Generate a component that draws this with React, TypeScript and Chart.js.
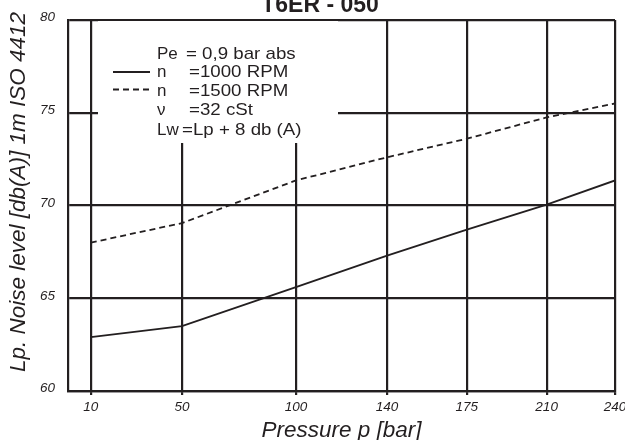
import React, { useEffect, useRef } from 'react';
import { Chart, registerables } from 'chart.js';

Chart.register(...registerables);

// ---- data ----
const pressureTicks = [10, 50, 100, 140, 175, 210, 240];
const noiseTicks = [60, 65, 70, 75, 80];
const noise1000 = [62.9, 63.5, 65.6, 67.3, 68.7, 70.05, 71.35];
const noise1500 = [68.0, 69.05, 71.35, 72.6, 73.6, 74.75, 75.5];
const chartTitle = 'T6ER - 050';
const xTitle = 'Pressure p [bar]';
const yTitle = 'Lp. Noise level [db(A)] 1m ISO 4412';
const legendNames = ['Pe', 'n', 'n', 'ν', 'Lw'];
const legendValues = ['= 0,9 bar abs', '=1000 RPM', '=1500 RPM', '=32 cSt', '=Lp + 8 db (A)'];

const INK = '#231f20';
const FAMILY = '"Liberation Sans", Arial, sans-serif';

function stretchedText(ctx: CanvasRenderingContext2D, s: string, x: number, y: number, sx: number) {
  ctx.save();
  ctx.translate(x, y);
  ctx.scale(sx, 1);
  ctx.fillText(s, 0, 0);
  ctx.restore();
}

const overlayPlugin = {
  id: 'overlay',
  beforeDatasetsDraw(chart: any) {
    const ctx = chart.ctx as CanvasRenderingContext2D;
    ctx.save();
    ctx.fillStyle = '#ffffff';
    ctx.fillRect(98, 21, 240, 122);
    ctx.restore();
  },
  afterDraw(chart: any) {
    const ctx = chart.ctx as CanvasRenderingContext2D;
    const { left, right } = chart.chartArea;
    ctx.save();
    ctx.fillStyle = INK;
    ctx.strokeStyle = INK;
    ctx.textBaseline = 'alphabetic';

    // chart title
    ctx.textAlign = 'center';
    ctx.font = `bold 23px ${FAMILY}`;
    ctx.fillText(chartTitle, 320, 12);

    // x axis title
    ctx.font = `italic 22.5px ${FAMILY}`;
    ctx.fillText(xTitle, (left + right) / 2, 437);

    // y axis title
    ctx.save();
    ctx.translate(25, 192);
    ctx.rotate(-Math.PI / 2);
    ctx.fillText(yTitle, 0, 0);
    ctx.restore();

    // legend box text
    ctx.textAlign = 'left';
    ctx.font = `17px ${FAMILY}`;
    const baselines = [59, 77.3, 96, 114.5, 135];
    const eqX = [186, 189, 189, 189, 182];
    legendNames.forEach((name, i) => {
      stretchedText(ctx, name, 157, baselines[i], 1.0);
      stretchedText(ctx, legendValues[i], eqX[i], baselines[i], 1.1);
    });

    // legend line samples
    ctx.lineWidth = 1.8;
    ctx.beginPath();
    ctx.moveTo(113, 72);
    ctx.lineTo(150, 72);
    ctx.stroke();
    ctx.setLineDash([6, 4]);
    ctx.beginPath();
    ctx.moveTo(113, 89.5);
    ctx.lineTo(152, 89.5);
    ctx.stroke();
    ctx.restore();
  },
};

export default function App() {
  const ref = useRef<HTMLCanvasElement | null>(null);

  useEffect(() => {
    document.body.style.margin = '0';
    const canvas = ref.current;
    if (!canvas) return;
    const chart = new Chart(canvas, {
      type: 'line',
      data: {
        datasets: [
          {
            label: 'n = 1000 RPM',
            data: pressureTicks.map((p, i) => ({ x: p, y: noise1000[i] })),
            borderColor: INK,
            borderWidth: 1.8,
            pointRadius: 0,
            tension: 0,
            fill: false,
          },
          {
            label: 'n = 1500 RPM',
            data: pressureTicks.map((p, i) => ({ x: p, y: noise1500[i] })),
            borderColor: INK,
            borderWidth: 1.8,
            borderDash: [6, 4],
            pointRadius: 0,
            tension: 0,
            fill: false,
          },
        ],
      },
      options: {
        animation: false,
        responsive: false,
        devicePixelRatio: 1,
        layout: { padding: { top: 20, right: 10, bottom: 0, left: 0 } },
        plugins: {
          legend: { display: false },
          title: { display: false },
          tooltip: { enabled: false },
        },
        scales: {
          x: {
            type: 'linear',
            min: 0,
            max: 240,
            afterBuildTicks: (scale: any) => {
              scale.ticks = pressureTicks.map((v) => ({ value: v }));
            },
            afterFit: (scale: any) => {
              scale.height = 49;
              scale.paddingLeft = 0;
              scale.paddingRight = 0;
            },
            grid: { color: INK, lineWidth: 2.2, tickLength: 4, drawTicks: true },
            border: { color: INK, width: 2.2 },
            ticks: {
              color: INK,
              padding: 4,
              maxRotation: 0,
              autoSkip: false,
              font: { family: FAMILY, size: 13.5, style: 'italic' },
            },
          },
          y: {
            type: 'linear',
            min: 60,
            max: 80,
            afterBuildTicks: (scale: any) => {
              scale.ticks = noiseTicks.map((v) => ({ value: v }));
            },
            afterFit: (scale: any) => {
              scale.width = 68;
              scale.paddingTop = 0;
              scale.paddingBottom = 0;
            },
            grid: { color: INK, lineWidth: 2.2, drawTicks: false },
            border: { color: INK, width: 2.2 },
            ticks: {
              color: INK,
              padding: 13,
              labelOffset: -2.5,
              font: { family: FAMILY, size: 13.5, style: 'italic' },
            },
          },
        },
      } as any,
      plugins: [overlayPlugin],
    });
    return () => chart.destroy();
  }, []);

  return (
    <div style={{ width: 625, height: 440, position: 'relative', background: '#fff' }}>
      <canvas ref={ref} width={625} height={440} style={{ display: 'block', width: 625, height: 440 }} />
    </div>
  );
}
